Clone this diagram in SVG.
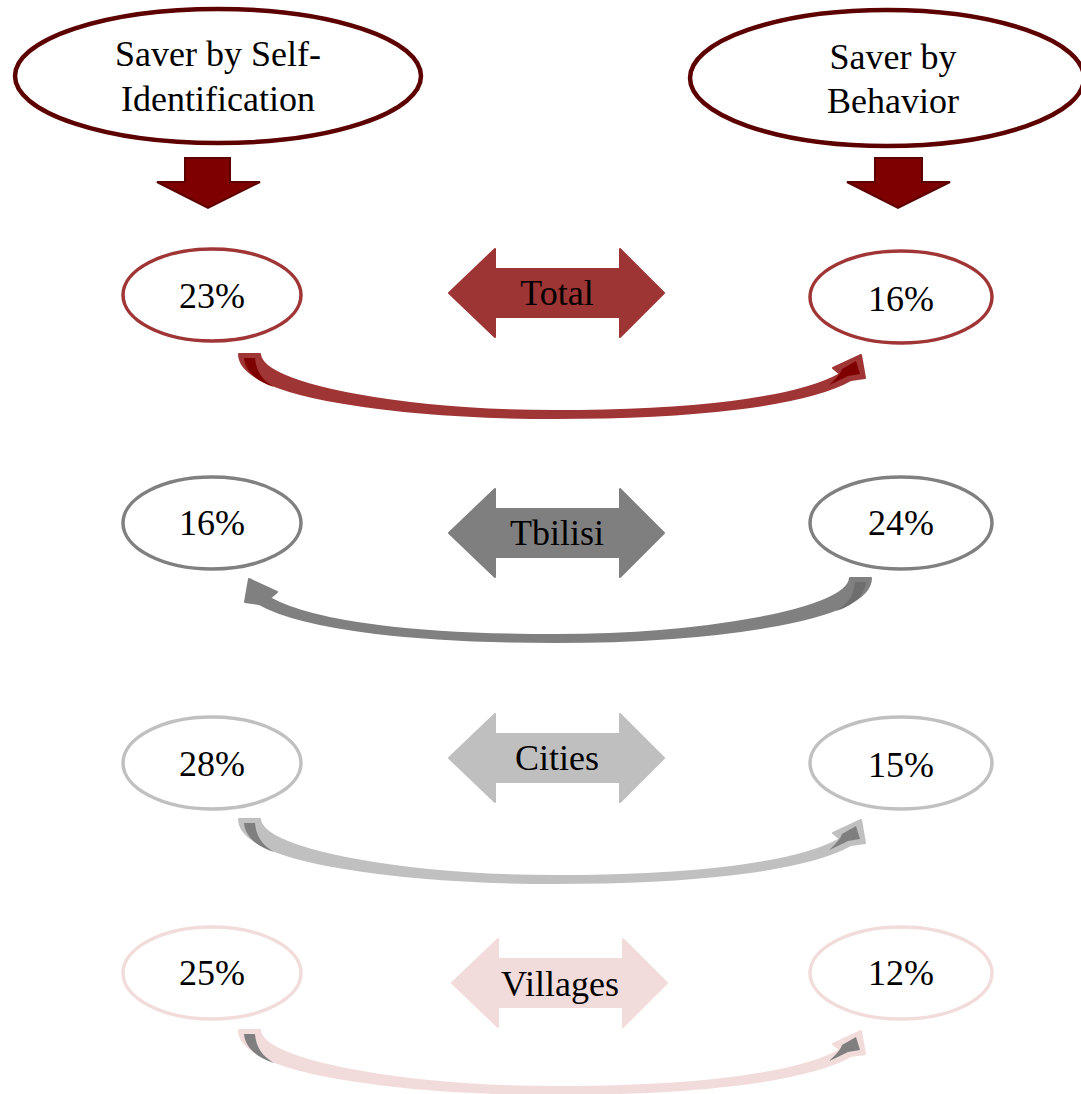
<svg xmlns="http://www.w3.org/2000/svg" width="1081" height="1094" viewBox="0 0 1081 1094">
<style>
text{font-family:"Liberation Serif","DejaVu Serif",serif;fill:#000;text-anchor:middle}
.hd{font-size:36px}
.lb{font-size:36px}
.top{fill:#fff;stroke:#5c0000;stroke-width:4.5}
.down{fill:#7f0000;stroke:#5c0000;stroke-width:2;stroke-linejoin:miter}
.eT{fill:#fff;stroke:#a03535;stroke-width:3.5}
.eB{fill:#fff;stroke:#808080;stroke-width:3.5}
.eC{fill:#fff;stroke:#c0c0c0;stroke-width:3.5}
.eV{fill:#fff;stroke:#f2dcdb;stroke-width:3.5}
.outer{stroke-width:2;stroke-linejoin:round}
</style>
<defs>
<polygon id="dbl" points="-108,0 -62,-44 -62,-24 63,-24 63,-44 107,0 63,44 63,24 -62,24 -62,44" stroke-width="2" stroke-linejoin="round"/>
<path id="band" d="M239,354 L260,354 C262,386 410,411 555,411 C690,411 795,399 840,374 L833,368 L861,355 L865,378 L851,380 C805,406 690,418 555,418 C410,418 239,399 239,354 Z"/>
<path id="innerA" d="M244,358 L255,358 C256,371 262,380 274,387 C258,382 245,372 244,358 Z"/>
<path id="innerB" d="M856,361 L860,374 L848,376 C842,379 836,382 829,385 C836,379 841,373 842,369 Z"/>
</defs>

<g id="header-self">
<ellipse class="top" cx="218" cy="76" rx="203" ry="67"/>
<text class="hd" x="218" y="66">Saver by Self-</text>
<text class="hd" x="218" y="111">Identification</text>
</g>
<g id="header-behavior">
<ellipse class="top" cx="887" cy="78" rx="197" ry="68"/>
<text class="hd" x="893" y="69">Saver by</text>
<text class="hd" x="893" y="113">Behavior</text>
</g>
<g id="down-left">
<polygon class="down" points="185,158 230,158 230,182 260,182 208,208 157,182 185,182"/>
</g>
<g id="down-right">
<polygon class="down" points="875,158 922,158 922,182 950,182 898,208 847,182 875,182"/>
</g>

<g id="row-total">
<g id="total-left"><ellipse class="eT" cx="212" cy="295" rx="89" ry="46"/><text class="lb" x="212" y="308">23%</text></g>
<g id="total-mid"><use href="#dbl" x="557" y="293" fill="#9e3535" stroke="#9e3535"/><text class="lb" x="557" y="305">Total</text></g>
<g id="total-right"><ellipse class="eT" cx="901" cy="297" rx="91" ry="46"/><text class="lb" x="901" y="311">16%</text></g>
</g>
<g id="row-tbilisi">
<g id="tbilisi-left"><ellipse class="eB" cx="212" cy="523" rx="89" ry="46"/><text class="lb" x="212" y="535">16%</text></g>
<g id="tbilisi-mid"><use href="#dbl" x="557" y="533" fill="#7f7f7f" stroke="#7f7f7f"/><text class="lb" x="557" y="545">Tbilisi</text></g>
<g id="tbilisi-right"><ellipse class="eB" cx="901" cy="523" rx="91" ry="46"/><text class="lb" x="901" y="535">24%</text></g>
</g>
<g id="row-cities">
<g id="cities-left"><ellipse class="eC" cx="212" cy="763" rx="89" ry="46"/><text class="lb" x="212" y="776">28%</text></g>
<g id="cities-mid"><use href="#dbl" x="557" y="758" fill="#bfbfbf" stroke="#bfbfbf"/><text class="lb" x="557" y="770">Cities</text></g>
<g id="cities-right"><ellipse class="eC" cx="901" cy="763" rx="91" ry="46"/><text class="lb" x="901" y="777">15%</text></g>
</g>
<g id="row-villages">
<g id="villages-left"><ellipse class="eV" cx="212" cy="973" rx="89" ry="46"/><text class="lb" x="212" y="985">25%</text></g>
<g id="villages-mid"><use href="#dbl" x="560" y="983" fill="#f2dcdb" stroke="#f2dcdb"/><text class="lb" x="560" y="996">Villages</text></g>
<g id="villages-right"><ellipse class="eV" cx="901" cy="973" rx="91" ry="46"/><text class="lb" x="901" y="985">12%</text></g>
</g>

<g id="connectors">
<g id="curve-total">
<use href="#band" class="outer" fill="#a03535" stroke="#a03535"/>
<use href="#innerA" fill="#7f0000"/>
<use href="#innerB" fill="#7f0000"/>
</g>
<g id="curve-tbilisi" transform="translate(1110,224) scale(-1,1)">
<use href="#band" class="outer" fill="#808080" stroke="#808080"/>
<use href="#innerA" fill="#6e6e6e"/>
</g>
<g id="curve-cities" transform="translate(0,465)">
<use href="#band" class="outer" fill="#c0c0c0" stroke="#c0c0c0"/>
<use href="#innerA" fill="#7f7f7f"/>
<use href="#innerB" fill="#7f7f7f"/>
</g>
<g id="curve-villages" transform="translate(0,676)">
<use href="#band" class="outer" fill="#f2dcdb" stroke="#f2dcdb"/>
<use href="#innerA" fill="#7f7f7f"/>
<use href="#innerB" fill="#7f7f7f"/>
</g>
</g>
</svg>
